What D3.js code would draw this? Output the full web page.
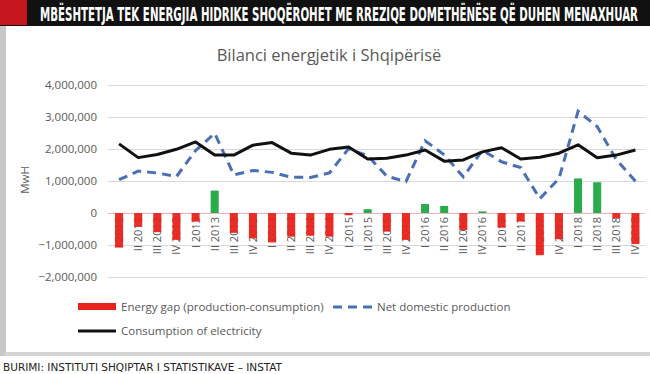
<!DOCTYPE html>
<html>
<head>
<meta charset="utf-8">
<script src="https://cdn.jsdelivr.net/npm/d3@7"></script>
<style>
  body { margin: 0; background: #fff; }
  svg { display: block; }
</style>
</head>
<body>
<svg id="chart" width="650" height="374"></svg>
<script>
// quarters as printed on the chart
const quarters = [
    "I 2012", "II 2012", "III 2012", "IV 2012",
    "I 2013", "II 2013", "III 2013", "IV 2013",
    "I 2014", "II 2014", "III 2014", "IV 2014",
    "I 2015", "II 2015", "III 2015", "IV 2015",
    "I 2016", "II 2016", "III 2016", "IV 2016",
    "I 2017", "II 2017", "III 2017", "IV 2017",
    "I 2018", "II 2018", "III 2018", "IV 2018"
];

// MWh
const consumption = [
    2160000, 1730000, 1830000, 1990000, 2220000, 1810000, 1810000, 2120000,
    2200000, 1870000, 1810000, 1990000, 2060000, 1690000, 1710000, 1810000,
    1970000, 1620000, 1660000, 1910000, 2040000, 1690000, 1740000, 1870000,
    2130000, 1730000, 1810000, 1970000
];
const production = [
    1040000, 1310000, 1250000, 1140000, 1950000, 2490000, 1190000, 1330000,
    1270000, 1120000, 1110000, 1250000, 2010000, 1790000, 1150000, 980000,
    2260000, 1820000, 1130000, 1960000, 1600000, 1420000, 450000, 1070000,
    3180000, 2700000, 1670000, 990000
];
const gap = [
    -1080000, -430000, -600000, -840000, -270000, 700000, -620000, -790000,
    -920000, -740000, -710000, -740000, -70000, 120000, -580000, -840000,
    280000, 220000, -530000, 50000, -460000, -270000, -1320000, -820000,
    1080000, 960000, -160000, -970000
];
const yTicks = [-2000000, -1000000, 0, 1000000, 2000000, 3000000, 4000000];

const headline = "MBËSHTETJA TEK ENERGJIA HIDRIKE SHOQËROHET ME RREZIQE DOMETHËNËSE QË DUHEN MENAXHUAR";
const chartTitle = "Bilanci energjetik i Shqipërisë";
const source = "BURIMI: INSTITUTI SHQIPTAR I STATISTIKAVE – INSTAT";

const svg = d3.select("#chart");
const font = "'Open Sans', 'Liberation Sans', sans-serif";

// panel behind the chart
svg.append("rect")
    .attr("x", 0).attr("y", 26).attr("width", 7).attr("height", 330)
    .attr("fill", "#c8c8c8");
svg.append("rect")
    .attr("x", 5).attr("y", 352).attr("width", 645).attr("height", 4)
    .attr("fill", "#d4d4d4");
svg.append("rect")
    .attr("x", 6).attr("y", 26).attr("width", 644).attr("height", 326)
    .attr("fill", "#fff");

// headline band
svg.append("rect")
    .attr("x", 0).attr("y", 0).attr("width", 650).attr("height", 26)
    .attr("fill", "#111");
svg.append("rect")
    .attr("x", 0).attr("y", 0).attr("width", 27).attr("height", 25)
    .attr("fill", "#c4161c");
// small condensed text stretched upward, so it fits the band width
svg.append("text")
    .attr("transform", "translate(40,21) scale(1,1.8)")
    .attr("textLength", 598).attr("lengthAdjust", "spacingAndGlyphs")
    .style("font-family", "'DejaVu Sans Condensed', 'DejaVu Sans', sans-serif")
    .style("font-weight", "bold")
    .style("font-size", "11px")
    .attr("fill", "#fff")
    .text(headline);

// title
svg.append("text")
    .attr("x", 329).attr("y", 61)
    .attr("text-anchor", "middle")
    .style("font-family", font)
    .style("font-size", "16.5px")
    .attr("fill", "#595959")
    .text(chartTitle);

const x = d3.scaleBand()
    .domain(quarters)
    .range([109.5, 645])
    .paddingInner(0.58)
    .paddingOuter(0.29);

const y = d3.scaleLinear()
    .domain([-2000000, 4000000])
    .range([277, 85]);

// gridlines + tick labels
const yAxis = svg.append("g")
    .attr("transform", "translate(108,0)")
    .call(d3.axisLeft(y)
        .tickValues(yTicks)
        .tickFormat(d3.format(","))
        .tickSize(-537)
        .tickPadding(11));
yAxis.select(".domain").remove();
yAxis.selectAll(".tick line")
    .attr("stroke", d => d === 0 ? "#e9b9b9" : "#d9d9d9")
    .attr("stroke-width", 1.2);
yAxis.selectAll(".tick text")
    .style("font-family", font)
    .style("font-size", "11.5px")
    .attr("fill", "#595959");

svg.append("text")
    .attr("transform", "translate(29,180) rotate(-90)")
    .attr("text-anchor", "middle")
    .style("font-family", font)
    .style("font-size", "11.5px")
    .attr("fill", "#595959")
    .text("MwH");

// category labels sit under the bars
svg.append("g")
    .selectAll("text")
    .data(quarters)
    .join("text")
    .attr("transform", d => `translate(${x(d) + x.bandwidth() / 2 + 4},217) rotate(-90)`)
    .attr("text-anchor", "end")
    .style("font-family", font)
    .style("font-size", "11px")
    .attr("fill", "#595959")
    .text(d => d);

// energy gap bars
svg.append("g")
    .selectAll("rect")
    .data(gap)
    .join("rect")
    .attr("x", (d, i) => x(quarters[i]))
    .attr("width", x.bandwidth())
    .attr("y", d => y(Math.max(0, d)))
    .attr("height", d => Math.abs(y(d) - y(0)))
    .attr("fill", d => d < 0 ? "#e8231b" : "#1fa842")
    .attr("fill-opacity", 0.95);

const line = d3.line()
    .x((d, i) => x(quarters[i]) + x.bandwidth() / 2)
    .y(d => y(d));

svg.append("path")
    .datum(production)
    .attr("d", line)
    .attr("fill", "none")
    .attr("stroke", "#4a6fb5")
    .attr("stroke-width", 3)
    .attr("stroke-dasharray", "9,6");

svg.append("path")
    .datum(consumption)
    .attr("d", line)
    .attr("fill", "none")
    .attr("stroke", "#111")
    .attr("stroke-width", 3)
    .attr("stroke-linejoin", "round");

// legend
const legend = svg.append("g")
    .style("font-family", font)
    .style("font-size", "11.5px")
    .attr("fill", "#595959");

legend.append("rect")
    .attr("x", 78).attr("y", 303).attr("width", 38).attr("height", 7)
    .attr("fill", "#e8231b");
legend.append("text")
    .attr("x", 121).attr("y", 311)
    .text("Energy gap (production-consumption)");

legend.append("line")
    .attr("x1", 333).attr("x2", 372).attr("y1", 307).attr("y2", 307)
    .attr("stroke", "#4a6fb5").attr("stroke-width", 3)
    .attr("stroke-dasharray", "9,6");
legend.append("text")
    .attr("x", 377).attr("y", 311)
    .text("Net domestic production");

legend.append("line")
    .attr("x1", 78).attr("x2", 116).attr("y1", 331).attr("y2", 331)
    .attr("stroke", "#111").attr("stroke-width", 3);
legend.append("text")
    .attr("x", 121).attr("y", 335)
    .text("Consumption of electricity");

// source line
svg.append("text")
    .attr("x", 3).attr("y", 371)
    .attr("textLength", 279).attr("lengthAdjust", "spacingAndGlyphs")
    .style("font-family", "'DejaVu Sans Condensed', 'DejaVu Sans', sans-serif")
    .style("font-size", "11px")
    .attr("fill", "#222")
    .text(source);
</script>
</body>
</html>
